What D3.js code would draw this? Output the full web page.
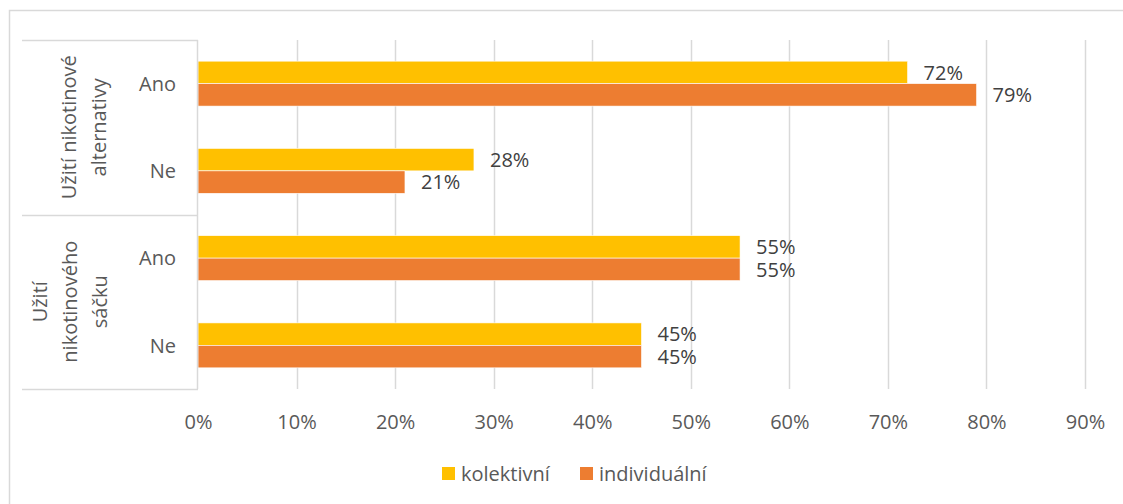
<!DOCTYPE html>
<html>
<head>
<meta charset="utf-8">
<script src="https://cdn.jsdelivr.net/npm/d3@7"></script>
<style>
  html, body { margin: 0; padding: 0; background: #fff; }
  svg { display: block; font-family: "Open Sans", "Noto Sans", sans-serif; }
</style>
</head>
<body>
<svg id="chart" width="1123" height="504"></svg>
<script>
// ---- data ----
const groups = [
  { lines: ["Užití nikotinové", "alternativy"], cats: ["alt-Ano", "alt-Ne"] },
  { lines: ["Užití", "nikotinového", "sáčku"], cats: ["sac-Ano", "sac-Ne"] }
];
const categories = ["alt-Ano", "alt-Ne", "sac-Ano", "sac-Ne"];
const categoryLabels = ["Ano", "Ne", "Ano", "Ne"];
const seriesNames = ["kolektivní", "individuální"];
const kolektivni = [72, 28, 55, 45];
const individualni = [79, 21, 55, 45];
const tickValues = [0, 10, 20, 30, 40, 50, 60, 70, 80, 90];
const colors = ["#FFC000", "#ED7D31"];

// ---- layout ----
const svg = d3.select("#chart");
const plot = { left: 198, right: 1085, top: 40, bottom: 389 };
const tableLeft = 22;
const fontSize = 20;

// outer border
svg.append("rect")
  .attr("x", 9.5).attr("y", 10.5)
  .attr("width", 1300).attr("height", 700)
  .attr("fill", "none").attr("stroke", "#d9d9d9").attr("stroke-width", 1.5);

const x = d3.scaleLinear().domain([0, 90]).range([plot.left, plot.right]);
const y = d3.scaleBand().domain(categories).range([plot.top, plot.bottom]).paddingInner(0.485).paddingOuter(0.2425);
const ySub = d3.scaleBand().domain(seriesNames).range([0, y.bandwidth()]);

// gridlines
svg.append("g").selectAll("line").data(tickValues.slice(1)).join("line")
  .attr("x1", d => Math.round(x(d)) + 0.5).attr("x2", d => Math.round(x(d)) + 0.5)
  .attr("y1", plot.top).attr("y2", plot.bottom)
  .attr("stroke", "#d9d9d9").attr("stroke-width", 1.5);

// x-axis tick labels
const xAxis = d3.axisBottom(x).tickValues(tickValues).tickFormat(d => d + "%").tickSize(0).tickPadding(0);
const gx = svg.append("g").attr("transform", `translate(0,${plot.bottom})`).call(xAxis);
gx.select(".domain").remove();
gx.selectAll("text")
  .attr("y", 40).attr("dy", 0)
  .attr("font-size", fontSize).attr("font-family", "Open Sans, Noto Sans, sans-serif")
  .attr("fill", "#595959");

// bars
const series = [kolektivni, individualni];
const barData = [];
categories.forEach((c, i) => {
  seriesNames.forEach((s, j) => barData.push({ cat: c, s, v: series[j][i], color: colors[j] }));
});
svg.append("g").selectAll("rect").data(barData).join("rect")
  .attr("x", x(0))
  .attr("y", d => y(d.cat) + ySub(d.s))
  .attr("width", d => x(d.v) - x(0))
  .attr("height", ySub.bandwidth())
  .attr("fill", d => d.color)
  .attr("stroke", "#fff").attr("stroke-width", 0.6);

// value labels
svg.append("g").selectAll("text").data(barData).join("text")
  .attr("x", d => x(d.v) + 16)
  .attr("y", d => y(d.cat) + ySub(d.s) + ySub.bandwidth() / 2)
  .attr("dy", "0.36em")
  .attr("font-size", fontSize)
  .attr("fill", "#404040")
  .text(d => d.v + "%");

// category table lines
const tbl = svg.append("g").attr("stroke", "#d9d9d9").attr("stroke-width", 1.5);
const groupBounds = groups.map(g => [y(g.cats[0]) - y.step() * y.paddingOuter() , y(g.cats[g.cats.length - 1]) + y.bandwidth() + y.step() * y.paddingOuter()]);
const hLines = [plot.top, (groupBounds[0][1] + groupBounds[1][0]) / 2, plot.bottom];
tbl.selectAll("line.h").data(hLines).join("line")
  .attr("x1", tableLeft).attr("x2", plot.left)
  .attr("y1", d => Math.round(d) + 0.5).attr("y2", d => Math.round(d) + 0.5);
tbl.append("line")
  .attr("x1", plot.left - 0.5).attr("x2", plot.left - 0.5)
  .attr("y1", plot.top).attr("y2", plot.bottom);

// category labels
svg.append("g").selectAll("text").data(categories).join("text")
  .attr("x", 176)
  .attr("y", d => y(d) + y.bandwidth() / 2)
  .attr("dy", "0.36em")
  .attr("text-anchor", "end")
  .attr("font-size", fontSize)
  .attr("fill", "#595959")
  .text((d, i) => categoryLabels[i]);

// group labels (rotated)
const groupCenters = [84, 70];
const lineGap = 30;
groups.forEach((g, gi) => {
  const cy = (hLines[gi] + hLines[gi + 1]) / 2;
  const n = g.lines.length;
  const t = svg.append("text")
    .attr("transform", `translate(${groupCenters[gi]},${cy}) rotate(-90)`)
    .attr("text-anchor", "middle")
    .attr("font-size", fontSize)
    .attr("fill", "#595959");
  g.lines.forEach((ln, li) => {
    t.append("tspan")
      .attr("x", 0)
      .attr("y", (li - (n - 1) / 2) * lineGap)
      .attr("dy", "0.36em")
      .text(ln);
  });
});

// legend
const legend = svg.append("g");
const legendX = [442, 580];
seriesNames.forEach((s, i) => {
  legend.append("rect")
    .attr("x", legendX[i]).attr("y", 467)
    .attr("width", 13).attr("height", 13)
    .attr("fill", colors[i]);
  legend.append("text")
    .attr("x", legendX[i] + 19).attr("y", 474)
    .attr("dy", "0.36em")
    .attr("font-size", fontSize)
    .attr("fill", "#595959")
    .text(s);
});
</script>
</body>
</html>
